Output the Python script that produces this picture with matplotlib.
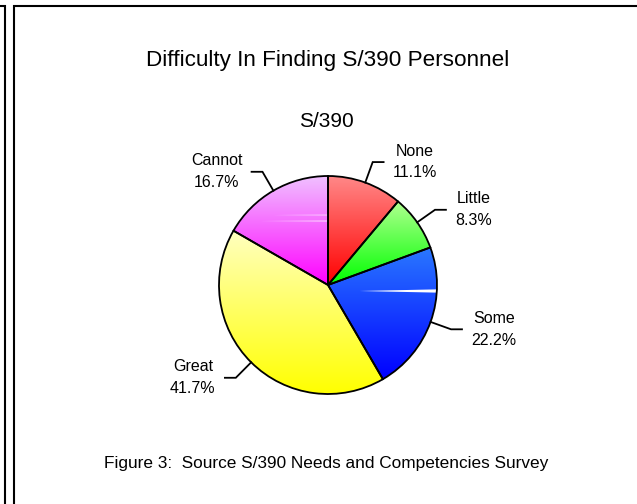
import numpy as np
import matplotlib
matplotlib.use("Agg")
import matplotlib.pyplot as plt
from matplotlib.lines import Line2D
from matplotlib.colors import to_rgb

# ---- data ----
categories = ["None", "Little", "Some", "Great", "Cannot"]
percentages = [11.1, 8.3, 22.2, 41.7, 16.7]
base_colors = ["#ff0000", "#00ff00", "#0000ff", "#ffff00", "#ff00ff"]
top_colors = ["#ff8888", "#b0ff90", "#2a78ff", "#ffffc0", "#f0c0ff"]
title = "Difficulty In Finding S/390 Personnel"
subtitle = "S/390"
caption = "Figure 3:  Source S/390 Needs and Competencies Survey"

W, H, DPI = 637, 504, 100
plt.rcParams['font.family'] = ['Liberation Sans', 'DejaVu Sans']
fig = plt.figure(figsize=(W / DPI, H / DPI), dpi=DPI)
fig.patch.set_facecolor('white')

# ---- frame lines ----
def px_line(xs, ys, lw=1.5):
    fig.add_artist(Line2D([x / W for x in xs], [1 - y / H for y in ys],
                          transform=fig.transFigure, color='black', lw=lw,
                          solid_capstyle='butt', solid_joinstyle='miter'))

px_line([0, 4.5, 4.5], [6, 6, H])
px_line([W, 14, 14], [6, 6, H])

# ---- texts ----
fig.text(327.5 / W, 1 - 66 / H, title, ha='center', va='baseline', fontsize=16.2)
fig.text(326 / W, 1 - 127 / H, subtitle, ha='center', va='baseline', fontsize=15)
fig.text(326.5 / W, 1 - 468 / H, caption, ha='center', va='baseline', fontsize=12.4)

# ---- pie ----
cx, cy, R = 328, 285, 109
ax = fig.add_axes([(cx - R) / W, (H - cy - R) / H, 2 * R / W, 2 * R / H])
wedges, _ = ax.pie(percentages, startangle=90, counterclock=False, radius=1,
                   colors=base_colors,
                   wedgeprops=dict(edgecolor='black', linewidth=1.3))

for w, c0, c1 in zip(wedges, top_colors, base_colors):
    ext = w.get_path().get_extents()
    g = np.linspace(0, 1, 256)[:, None, None]
    top = np.array(to_rgb(c0))[None, None, :]
    bot = np.array(to_rgb(c1))[None, None, :]
    arr = top * (1 - g) + bot * g
    arr = np.repeat(arr, 2, axis=1)
    im = ax.imshow(arr, extent=(ext.x0, ext.x1, ext.y0, ext.y1), origin='upper',
                   aspect='auto', zorder=0.5, interpolation='bilinear')
    im.set_clip_path(w)
    w.set_facecolor('none')

# thin white glare streaks (as in the original rendering)
streaks = [(4, 0.642, -0.50, 0.018), (4, 0.587, -0.62, 0.02), (2, -0.055, 0.29, 0.03)]
for wi, yy, xs, th in streaks:
    w = wedges[wi]
    xe = 1.0
    poly = ax.fill([xs, xe, xe], [yy, yy + th / 2, yy - th / 2], color='white',
                   lw=0, zorder=0.7)[0]
    poly.set_clip_path(w)

ax.set_xlim(-1, 1)
ax.set_ylim(-1, 1)
ax.set_aspect('auto')
ax.axis('off')

# ---- labels with leader lines ----
total = sum(percentages)
cum = np.concatenate([[0], np.cumsum(percentages)])
for i, (lab, p) in enumerate(zip(categories, percentages)):
    mid = 90 - 360 * (cum[i] + p / 2) / total
    th = np.deg2rad(mid)
    x0, y0 = np.cos(th), np.sin(th)
    ex, ey = 1.2 * x0, 1.2 * y0
    side = 1 if x0 > 0 else -1
    hx = ex + side * 0.1
    ax.plot([x0, ex, hx], [y0, ey, ey], color='black', lw=1.3,
            clip_on=False, solid_joinstyle='miter')
    ax.text(hx + side * 0.085, ey, f"{lab}\n{p:.1f}%",
            ha='left' if side > 0 else 'right', va='center',
            multialignment='center', fontsize=11.5, linespacing=1.55)

fig.savefig("out.png", dpi=DPI)
